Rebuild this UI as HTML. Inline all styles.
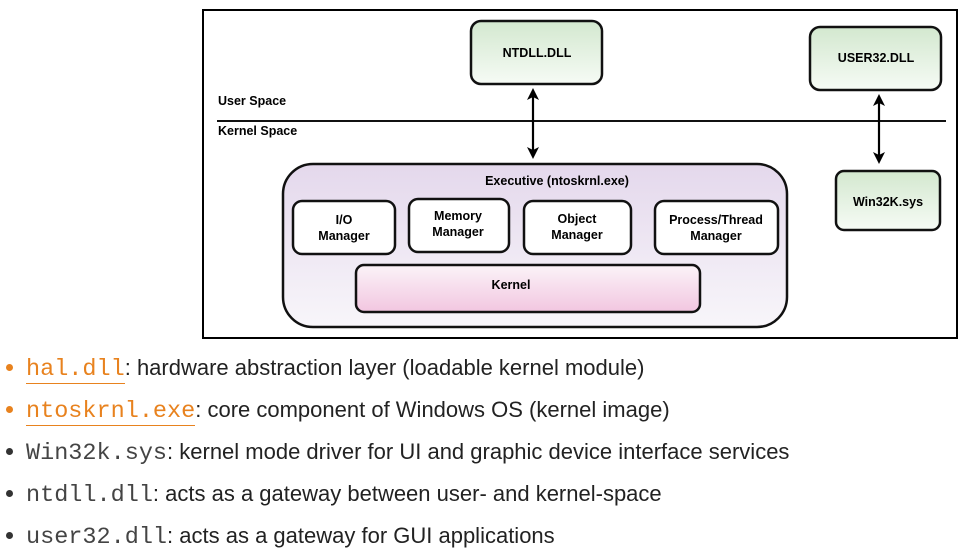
<!DOCTYPE html>
<html><head><meta charset="utf-8"><style>
body{margin:0;width:968px;height:554px;background:#fff;position:relative;overflow:hidden;font-family:"Liberation Sans",sans-serif}
.li{position:absolute;left:0;height:30px;font-size:22px;color:#222;white-space:nowrap}
.li .b{position:absolute;left:6px;top:11px;width:7px;height:7px;border-radius:50%;background:#333}
.li.o .b{background:#e8821e}
.li .t{position:absolute;left:26px;top:0;line-height:30px}
.m{font-family:"Liberation Mono",monospace;font-size:23.5px;color:#444}
.o .m{color:#e8821e;border-bottom:1.5px solid #e8821e}
</style></head><body>
<svg width="968" height="345" style="position:absolute;left:0;top:0" font-family="Liberation Sans, sans-serif" font-weight="bold" font-size="12.5">
<defs>
<linearGradient id="g" x1="0" y1="0" x2="0" y2="1"><stop offset="0" stop-color="#d3e8cf"/><stop offset="1" stop-color="#f6fbf5"/></linearGradient>
<linearGradient id="p" x1="0" y1="0" x2="0" y2="1"><stop offset="0" stop-color="#e4d8ec"/><stop offset="1" stop-color="#f8f6fa"/></linearGradient>
<linearGradient id="k" x1="0" y1="0" x2="0" y2="1"><stop offset="0" stop-color="#fbf3f8"/><stop offset="1" stop-color="#f2c6e0"/></linearGradient>
<marker id="a" markerWidth="12" markerHeight="12" refX="6" refY="6" orient="auto-start-reverse" markerUnits="userSpaceOnUse"><path d="M0,0 L12,6 L0,12 L3,6 z" fill="#000"/></marker>
</defs>
<rect x="203" y="10" width="754" height="328" fill="#fff" stroke="#000" stroke-width="2"/>
<rect x="471" y="21" width="131" height="63" rx="10" fill="url(#g)" stroke="#111" stroke-width="2.5"/>
<text x="537" y="57" text-anchor="middle">NTDLL.DLL</text>
<rect x="810" y="27" width="131" height="63" rx="10" fill="url(#g)" stroke="#111" stroke-width="2.5"/>
<text x="876" y="62" text-anchor="middle">USER32.DLL</text>
<text x="218" y="105">User Space</text>
<line x1="217" y1="121" x2="946" y2="121" stroke="#111" stroke-width="2"/>
<text x="218" y="135">Kernel Space</text>
<line x1="533" y1="94" x2="533" y2="153" stroke="#000" stroke-width="2.2" marker-start="url(#a)" marker-end="url(#a)"/>
<line x1="879" y1="100" x2="879" y2="158" stroke="#000" stroke-width="2.2" marker-start="url(#a)" marker-end="url(#a)"/>
<rect x="836" y="171" width="104" height="59" rx="8" fill="url(#g)" stroke="#111" stroke-width="2.5"/>
<text x="888" y="206" text-anchor="middle">Win32K.sys</text>
<rect x="283" y="164" width="504" height="163" rx="30" fill="url(#p)" stroke="#111" stroke-width="2.5"/>
<text x="557" y="185" text-anchor="middle">Executive (ntoskrnl.exe)</text>
<g fill="#fff" stroke="#111" stroke-width="2.5">
<rect x="293" y="201" width="102" height="53" rx="9"/>
<rect x="409" y="199" width="100" height="53" rx="9"/>
<rect x="524" y="201" width="107" height="53" rx="9"/>
<rect x="655" y="201" width="123" height="53" rx="9"/>
</g>
<g text-anchor="middle">
<text x="344" y="224">I/O</text><text x="344" y="240">Manager</text>
<text x="458" y="220">Memory</text><text x="458" y="236">Manager</text>
<text x="577" y="223">Object</text><text x="577" y="239">Manager</text>
<text x="716" y="224">Process/Thread</text><text x="716" y="240">Manager</text>
</g>
<rect x="356" y="265" width="344" height="47" rx="8" fill="url(#k)" stroke="#111" stroke-width="2.5"/>
<text x="511" y="289" text-anchor="middle">Kernel</text>
</svg>
<div class="li o" style="top:353px"><span class="b"></span><span class="t"><span class="m">hal.dll</span>: hardware abstraction layer (loadable kernel module)</span></div>
<div class="li o" style="top:395px"><span class="b"></span><span class="t"><span class="m">ntoskrnl.exe</span>: core component of Windows OS (kernel image)</span></div>
<div class="li" style="top:437px"><span class="b"></span><span class="t"><span class="m">Win32k.sys</span>: kernel mode driver for UI and graphic device interface services</span></div>
<div class="li" style="top:479px"><span class="b"></span><span class="t"><span class="m">ntdll.dll</span>: acts as a gateway between user- and kernel-space</span></div>
<div class="li" style="top:521px"><span class="b"></span><span class="t"><span class="m">user32.dll</span>: acts as a gateway for GUI applications</span></div>
</body></html>
